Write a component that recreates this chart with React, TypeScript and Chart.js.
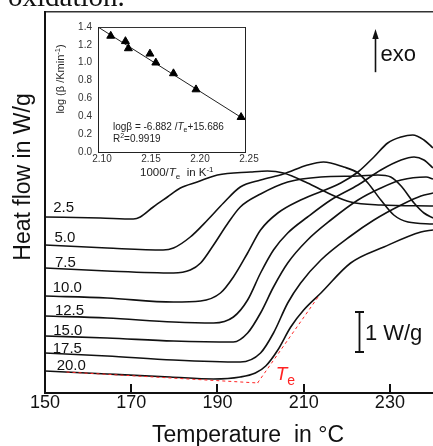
import React, { useEffect, useRef } from 'react';
import { Chart, registerables } from 'chart.js';

Chart.register(...registerables);

const FONT = '"Liberation Sans", Arial, Helvetica, sans-serif';
const SERIF = '"Liberation Serif", "Times New Roman", serif';
const INK = '#111111';
const RED = '#ff2323';

// ---------- main DSC chart data (temperature in °C, heat flow in W/g, offset) ----------
const rateLabels = ['2.5', '5.0', '7.5', '10.0', '12.5', '15.0', '17.5', '20.0'];
const xTickValues = [150, 170, 190, 210, 230];

const temp2_5 = [150, 162.8, 170.5, 172.1, 175.1, 178.4, 181.4, 185.3, 190, 197.7, 201.6, 205.3, 210.9, 215.6, 220.9, 227.9, 240];
const heat2_5 = [4.4, 4.375, 4.35, 4.4, 4.65, 4.9, 5.125, 5.275, 5.45, 5.525, 5.55, 5.5, 5.25, 5.0, 4.775, 4.7, 4.675];

const temp5_0 = [150, 164.4, 177.4, 179.8, 183.7, 187.7, 191.4, 195.3, 200, 205.3, 210.9, 214.6, 219.3, 222.6, 224.9, 227.9, 230.9, 234.2, 240];
const heat5_0 = [3.7, 3.625, 3.575, 3.625, 3.9, 4.325, 4.75, 5.15, 5.325, 5.475, 5.7, 5.775, 5.65, 5.5, 5.25, 4.825, 4.45, 4.275, 4.225];

const temp7_5 = [150, 164.4, 179.8, 183.7, 186.1, 189.1, 192.3, 195.3, 200, 206.3, 214, 222.6, 227.2, 230.2, 232.6, 235.6, 237.9, 240];
const heat7_5 = [3.125, 3.05, 3.0, 3.075, 3.25, 3.7, 4.225, 4.65, 4.975, 5.275, 5.4, 5.425, 5.45, 5.4, 5.175, 4.75, 4.5, 4.375];

const temp10_0 = [150, 164.4, 179.8, 186.1, 190.7, 193.7, 197, 200, 204, 209.3, 218.6, 222.6, 226.3, 229.5, 232.6, 235.3, 237.9, 240];
const heat10_0 = [2.425, 2.375, 2.275, 2.3, 2.5, 2.9, 3.5, 4.075, 4.5, 4.825, 5.25, 5.525, 5.9, 6.25, 6.4, 6.45, 6.325, 6.125];

const temp12_5 = [150, 164.4, 179.8, 189.1, 193.7, 197, 200, 203, 206.3, 210.9, 216.3, 222.6, 227.9, 232.6, 235.6, 237.9, 240];
const heat12_5 = [1.925, 1.875, 1.775, 1.75, 1.9, 2.325, 3.0, 3.575, 4.0, 4.4, 4.825, 5.2, 5.575, 5.825, 5.9, 5.825, 5.625];

const temp15_0 = [150, 164.4, 179.8, 193.7, 197, 200, 203, 206.3, 210.9, 216.3, 222.6, 227.9, 232.6, 238.4, 240];
const heat15_0 = [1.425, 1.375, 1.3, 1.275, 1.5, 2.0, 2.65, 3.25, 3.825, 4.325, 4.825, 5.125, 5.325, 5.4, 5.35];

const temp17_5 = [150, 164.4, 179.8, 195.3, 200, 203, 206.3, 209.3, 214, 220.9, 226.3, 232.6, 237.2, 240];
const heat17_5 = [1.0, 0.925, 0.825, 0.775, 1.0, 1.5, 2.25, 2.75, 3.325, 3.925, 4.325, 4.7, 4.925, 5.0];

const temp20_0 = [150, 164.4, 179, 189.1, 195.3, 198.8, 201.2, 204, 207, 210, 214, 220.9, 228.6, 237.2, 240];
const heat20_0 = [0.55, 0.475, 0.4, 0.35, 0.4, 0.5, 0.675, 1.075, 1.65, 2.075, 2.5, 3.25, 3.65, 4.025, 4.075];

const seriesTemps = [temp2_5, temp5_0, temp7_5, temp10_0, temp12_5, temp15_0, temp17_5, temp20_0];
const seriesHeat = [heat2_5, heat5_0, heat7_5, heat10_0, heat12_5, heat15_0, heat17_5, heat20_0];

// Te onset construction (20 K/min curve)
const teBaseT = [155, 199.5];
const teBaseY = [0.525, 0.25];
const teTanT = [199.3, 213.5];
const teTanY = [0.25, 2.425];

// annotation anchors (data units)
const labelT = [151.9, 152.2, 152.3, 151.8, 152.3, 151.9, 151.8, 152.7];
const labelY = [4.53, 3.78, 3.16, 2.53, 1.95, 1.45, 0.99, 0.575];

// ---------- inset (Kissinger-type plot) ----------
const invTe = [2.113, 2.128, 2.131, 2.153, 2.159, 2.177, 2.2, 2.246];
const logBeta = [1.3, 1.24, 1.16, 1.1, 1.0, 0.88, 0.7, 0.39];
const fitX = [2.1, 2.25];
const fitY = [1.4, 0.36];
const insetXTicks = [2.1, 2.15, 2.2, 2.25];
const insetYTicks = [0, 0.2, 0.4, 0.6, 0.8, 1.0, 1.2, 1.4];

type Seg = { t: string; font: string; dy?: number };
function drawRich(ctx: CanvasRenderingContext2D, x: number, y: number, segs: Seg[]) {
  let cx = x;
  for (const s of segs) {
    ctx.font = s.font;
    ctx.fillText(s.t, cx, y + (s.dy || 0));
    cx += ctx.measureText(s.t).width;
  }
  return cx;
}
function richWidth(ctx: CanvasRenderingContext2D, segs: Seg[]) {
  let w = 0;
  for (const s of segs) {
    ctx.font = s.font;
    w += ctx.measureText(s.t).width;
  }
  return w;
}

const mainDecor = {
  id: 'mainDecor',
  afterDraw(chart: any) {
    const { ctx, chartArea: ca, scales } = chart;
    const xs = scales.x;
    const ys = scales.y;
    const X = (v: number) => xs.getPixelForValue(v);
    const Y = (v: number) => ys.getPixelForValue(v);
    ctx.save();
    // inward tick marks on the temperature axis
    ctx.strokeStyle = INK;
    ctx.lineWidth = 2;
    for (const v of xTickValues) {
      const p = Math.round(X(v));
      ctx.beginPath();
      ctx.moveTo(p, ca.bottom);
      ctx.lineTo(p, ca.bottom - 9);
      ctx.stroke();
    }
    // heating-rate labels
    ctx.fillStyle = INK;
    ctx.textAlign = 'left';
    ctx.textBaseline = 'alphabetic';
    ctx.font = `15px ${FONT}`;
    rateLabels.forEach((r, i) => ctx.fillText(r, X(labelT[i]), Y(labelY[i])));

    // exo arrow
    const ax = Math.round(X(226.5)) + 0.5;
    const tip = Y(9.1);
    ctx.lineWidth = 1.6;
    ctx.beginPath();
    ctx.moveTo(ax, Y(8.02));
    ctx.lineTo(ax, tip + 6);
    ctx.stroke();
    ctx.beginPath();
    ctx.moveTo(ax, tip);
    ctx.lineTo(ax - 3.2, tip + 10);
    ctx.lineTo(ax + 3.2, tip + 10);
    ctx.closePath();
    ctx.fill();
    ctx.font = `22px ${FONT}`;
    ctx.fillText('exo', X(227.8), Y(8.3));

    // 1 W/g scale bar
    const bx = Math.round(X(222.8)) + 0.5;
    const b0 = Y(1.025);
    const b1 = Y(2.025);
    ctx.lineWidth = 1.8;
    ctx.beginPath();
    ctx.moveTo(bx, b0);
    ctx.lineTo(bx, b1);
    ctx.moveTo(bx - 4.5, b0);
    ctx.lineTo(bx + 4.5, b0);
    ctx.moveTo(bx - 4.5, b1);
    ctx.lineTo(bx + 4.5, b1);
    ctx.stroke();
    ctx.font = `22px ${FONT}`;
    ctx.fillText('1 W/g', X(224.2), Y(1.325));

    // Te label
    ctx.fillStyle = RED;
    drawRich(ctx, X(203.5), Y(0.33), [
      { t: 'T', font: `italic 19px ${FONT}` },
      { t: 'e', font: `14px ${FONT}`, dy: 5 },
    ]);

    // axis titles
    ctx.fillStyle = INK;
    ctx.font = `23px ${FONT}`;
    ctx.textAlign = 'left';
    ctx.fillText('Temperature  in \u00B0C', 152, 441.5);
    ctx.save();
    ctx.translate(24, 177);
    ctx.rotate(-Math.PI / 2);
    ctx.textAlign = 'center';
    ctx.textBaseline = 'middle';
    ctx.fillText('Heat flow in W/g', 0, 0);
    ctx.restore();

    // cropped caption text at the very top
    ctx.font = `29px ${SERIF}`;
    ctx.textBaseline = 'alphabetic';
    ctx.fillText('oxidation.', 8, 6);
    ctx.restore();
  },
};

const insetDecor = {
  id: 'insetDecor',
  afterDraw(chart: any) {
    const { ctx } = chart;
    ctx.save();
    ctx.fillStyle = '#222';
    ctx.textAlign = 'left';
    ctx.textBaseline = 'alphabetic';
    drawRich(ctx, 90, 161, [
      { t: '1000/', font: `11.5px ${FONT}` },
      { t: 'T', font: `italic 11.5px ${FONT}` },
      { t: 'e', font: `8px ${FONT}`, dy: 3 },
      { t: '  in K', font: `11.5px ${FONT}` },
      { t: '-1', font: `8px ${FONT}`, dy: -4.5 },
    ]);
    const ySegs: Seg[] = [
      { t: 'log (\u03B2 /Kmin', font: `11px ${FONT}` },
      { t: '-1', font: `7.5px ${FONT}`, dy: -4 },
      { t: ')', font: `11px ${FONT}` },
    ];
    ctx.save();
    ctx.translate(13.5, 64);
    ctx.rotate(-Math.PI / 2);
    const w = richWidth(ctx, ySegs);
    drawRich(ctx, -w / 2, 0, ySegs);
    ctx.restore();
    drawRich(ctx, 63, 114.5, [
      { t: 'log\u03B2 = -6.882 /', font: `10px ${FONT}` },
      { t: 'T', font: `italic 10px ${FONT}` },
      { t: 'e', font: `7px ${FONT}`, dy: 2.5 },
      { t: '+15.686', font: `10px ${FONT}` },
    ]);
    drawRich(ctx, 63, 126.5, [
      { t: 'R', font: `10px ${FONT}` },
      { t: '2', font: `7px ${FONT}`, dy: -4 },
      { t: '=0.9919', font: `10px ${FONT}` },
    ]);
    ctx.restore();
  },
};

export default function App() {
  const mainRef = useRef<HTMLCanvasElement>(null);
  const insetRef = useRef<HTMLCanvasElement>(null);

  useEffect(() => {
    const curveSets = seriesTemps.map((ts, i) => ({
      label: rateLabels[i],
      data: ts.map((t, j) => ({ x: t, y: seriesHeat[i][j] })),
      borderColor: INK,
      borderWidth: 1.6,
      pointRadius: 0,
      fill: false,
      cubicInterpolationMode: 'monotone' as const,
    }));
    const redSets = [
      { label: 'base', data: teBaseT.map((t, j) => ({ x: t, y: teBaseY[j] })) },
      { label: 'tangent', data: teTanT.map((t, j) => ({ x: t, y: teTanY[j] })) },
    ].map((d) => ({
      ...d,
      borderColor: RED,
      borderWidth: 1,
      borderDash: [3, 3],
      pointRadius: 0,
      fill: false,
      tension: 0,
    }));

    const main = new Chart(mainRef.current as HTMLCanvasElement, {
      type: 'line',
      data: { datasets: [...redSets, ...curveSets] as any },
      options: {
        animation: false,
        responsive: false,
        events: [],
        layout: { padding: 0 },
        plugins: { legend: { display: false }, tooltip: { enabled: false } },
        scales: {
          x: {
            type: 'linear',
            position: 'bottom',
            min: 150,
            max: 240,
            afterBuildTicks: (s: any) => {
              s.ticks = xTickValues.map((v) => ({ value: v }));
            },
            afterFit: (s: any) => {
              s.height = 53;
            },
            grid: { display: false, drawTicks: false },
            border: { display: true, color: INK, width: 2 },
            ticks: {
              color: INK,
              font: { family: FONT, size: 18, lineHeight: 1.1 },
              padding: 0,
              maxRotation: 0,
              autoSkip: false,
              callback: (v: any) => String(v),
            },
          },
          x2: {
            type: 'linear',
            position: 'top',
            min: 150,
            max: 240,
            afterFit: (s: any) => {
              s.height = 12;
            },
            grid: { display: false, drawTicks: false },
            border: { display: true, color: '#333', width: 1.5 },
            ticks: { display: false },
          },
          y: {
            type: 'linear',
            min: 0,
            max: 9.525,
            afterFit: (s: any) => {
              s.width = 45;
            },
            grid: { display: false, drawTicks: false },
            border: { display: true, color: INK, width: 2 },
            ticks: { display: false },
          },
        },
      } as any,
      plugins: [mainDecor],
    });

    const inset = new Chart(insetRef.current as HTMLCanvasElement, {
      type: 'line',
      data: {
        datasets: [
          {
            label: 'points',
            data: invTe.map((x, i) => ({ x, y: logBeta[i] })),
            showLine: false,
            pointStyle: 'triangle',
            pointRadius: 4.6,
            backgroundColor: '#000',
            borderColor: '#000',
            borderWidth: 1,
          },
          {
            label: 'fit',
            data: fitX.map((x, i) => ({ x, y: fitY[i] })),
            borderColor: '#222',
            borderWidth: 1,
            pointRadius: 0,
            tension: 0,
            fill: false,
          },
        ] as any,
      },
      options: {
        animation: false,
        responsive: false,
        events: [],
        layout: { padding: { top: 11, right: 17, left: 0, bottom: 0 } },
        plugins: { legend: { display: false }, tooltip: { enabled: false } },
        scales: {
          x: {
            type: 'linear',
            min: 2.1,
            max: 2.25,
            afterBuildTicks: (s: any) => {
              s.ticks = insetXTicks.map((v) => ({ value: v }));
            },
            afterFit: (s: any) => {
              s.height = 28;
            },
            grid: { display: false, drawTicks: false },
            border: { display: true, color: '#222', width: 1 },
            ticks: {
              color: '#333',
              font: { family: FONT, size: 10, lineHeight: 1.2 },
              padding: 1,
              labelOffset: 4,
              maxRotation: 0,
              autoSkip: false,
              callback: (v: any) => Number(v).toFixed(2),
            },
          },
          x2: {
            type: 'linear',
            position: 'top',
            min: 2.1,
            max: 2.25,
            afterFit: (s: any) => {
              s.height = 0;
            },
            grid: { display: false, drawTicks: false },
            border: { display: true, color: '#333', width: 1 },
            ticks: { display: false },
          },
          y: {
            type: 'linear',
            min: 0,
            max: 1.4,
            afterBuildTicks: (s: any) => {
              s.ticks = insetYTicks.map((v) => ({ value: v }));
            },
            afterFit: (s: any) => {
              s.width = 48;
            },
            grid: { display: false, drawTicks: false },
            border: { display: true, color: '#222', width: 1 },
            ticks: {
              color: '#333',
              font: { family: FONT, size: 10 },
              padding: 6,
              autoSkip: false,
              callback: (v: any) => Number(v).toFixed(1),
            },
          },
          y2: {
            type: 'linear',
            position: 'right',
            min: 0,
            max: 1.4,
            afterFit: (s: any) => {
              s.width = 0;
            },
            grid: { display: false, drawTicks: false },
            border: { display: true, color: '#222', width: 1 },
            ticks: { display: false },
          },
        },
      } as any,
      plugins: [insetDecor],
    });

    return () => {
      main.destroy();
      inset.destroy();
    };
  }, []);

  return (
    <div style={{ position: 'fixed', left: 0, top: 0, width: 433, height: 446, background: '#fff', overflow: 'hidden' }}>
      <canvas ref={mainRef} width={433} height={446} style={{ display: 'block', width: 433, height: 446 }} />
      <canvas
        ref={insetRef}
        width={212}
        height={165}
        style={{ position: 'absolute', left: 50, top: 15, width: 212, height: 165 }}
      />
    </div>
  );
}
